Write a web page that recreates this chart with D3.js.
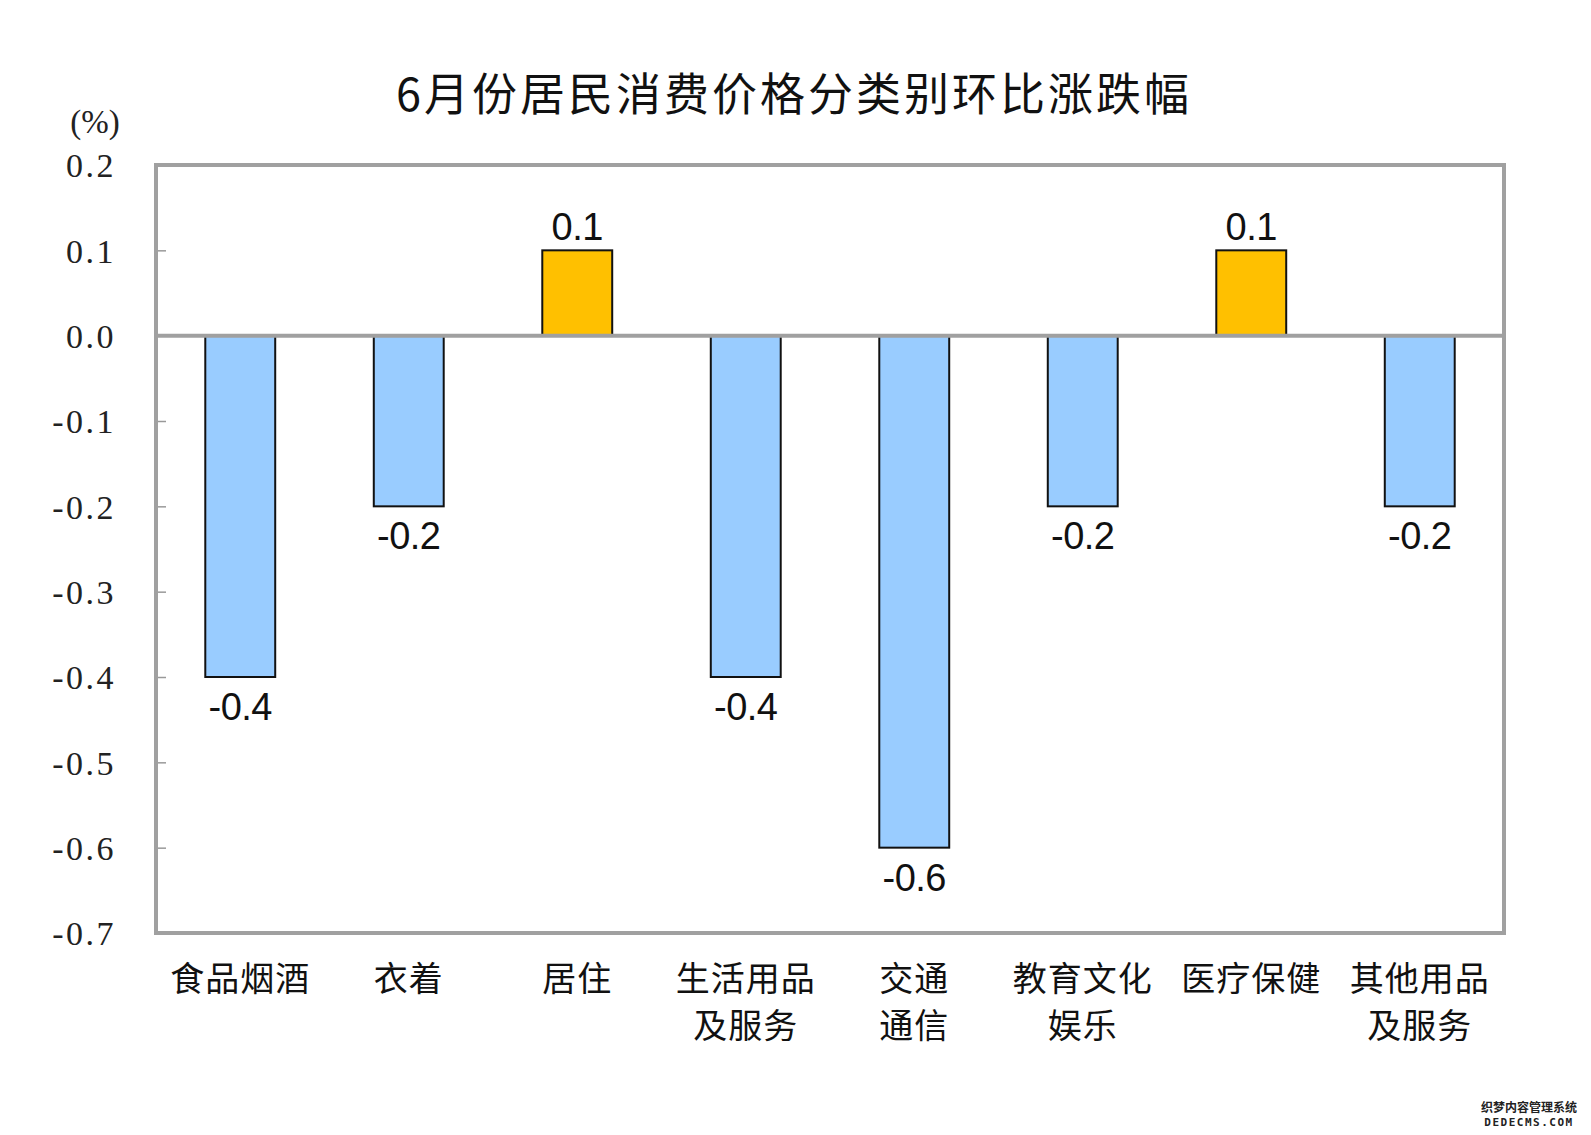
<!DOCTYPE html>
<html>
<head>
<meta charset="utf-8">
<script src="https://cdn.jsdelivr.net/npm/d3@7"></script>
<style>
  html, body { margin: 0; padding: 0; background: #ffffff; }
  svg { display: block; }
</style>
</head>
<body>
<svg id="chart" width="1591" height="1135"></svg>
<script>
// ---- data ----
const title = "6月份居民消费价格分类别环比涨跌幅";
const unitLabel = "(%)";
const categories = ["食品烟酒", "衣着", "居住", "生活用品\n及服务", "交通\n通信", "教育文化\n娱乐", "医疗保健", "其他用品\n及服务"];
const values = [-0.4, -0.2, 0.1, -0.4, -0.6, -0.2, 0.1, -0.2];
const yTicks = [0.2, 0.1, 0.0, -0.1, -0.2, -0.3, -0.4, -0.5, -0.6, -0.7];
const yDomain = [-0.7, 0.2];

// ---- layout ----
const svg = d3.select("#chart");
const pL = 156, pR = 1504, pT = 165, pB = 933;

const x = d3.scaleBand().domain(categories).range([pL, pR]).paddingInner(0.585).paddingOuter(0.2925);
const y = d3.scaleLinear().domain(yDomain).range([pB, pT]);

// title
svg.append("text")
  .attr("x", 794).attr("y", 91)
  .attr("text-anchor", "middle").attr("dominant-baseline", "central")
  .attr("font-family", "'Noto Sans CJK SC', sans-serif")
  .attr("font-size", 45).attr("letter-spacing", 3)
  .attr("fill", "#111")
  .text(title);

// unit label
svg.append("text")
  .attr("x", 95).attr("y", 133)
  .attr("text-anchor", "middle")
  .attr("font-family", "'Liberation Serif', serif")
  .attr("font-size", 33)
  .attr("fill", "#222")
  .text(unitLabel);

// y axis (ticks inward, no domain)
const yAxis = d3.axisLeft(y).tickValues(yTicks).tickSize(-10).tickPadding(0)
  .tickFormat(d => d3.format(".1f")(d).replace("−", "-"));
const gy = svg.append("g").attr("transform", `translate(${pL},0)`).call(yAxis);
gy.select(".domain").remove();
gy.selectAll(".tick line").attr("stroke", "#999").attr("stroke-width", 1.5);
gy.selectAll(".tick text")
  .attr("x", -40)
  .attr("dy", "0.35em")
  .attr("font-family", "'Liberation Serif', serif")
  .attr("font-size", 34)
  .attr("letter-spacing", 2.5)
  .attr("fill", "#222")
  .attr("text-anchor", "end");

// bars
svg.append("g").selectAll("rect").data(values).join("rect")
  .attr("x", (d, i) => x(categories[i]))
  .attr("width", x.bandwidth())
  .attr("y", d => y(Math.max(0, d)))
  .attr("height", d => Math.abs(y(d) - y(0)))
  .attr("fill", d => d >= 0 ? "#FFC000" : "#99CCFF")
  .attr("stroke", "#111")
  .attr("stroke-width", 2);

// zero line
svg.append("line")
  .attr("x1", pL).attr("x2", pR)
  .attr("y1", y(0)).attr("y2", y(0))
  .attr("stroke", "#a0a0a0").attr("stroke-width", 4);

// frame
svg.append("rect")
  .attr("x", pL).attr("y", pT)
  .attr("width", pR - pL).attr("height", pB - pT)
  .attr("fill", "none").attr("stroke", "#a0a0a0").attr("stroke-width", 4);

// value labels
svg.append("g").selectAll("text").data(values).join("text")
  .attr("x", (d, i) => x(categories[i]) + x.bandwidth() / 2)
  .attr("y", d => d >= 0 ? y(d) - 10 : y(d) + 43)
  .attr("text-anchor", "middle")
  .attr("font-family", "'Liberation Sans', Arial, sans-serif")
  .attr("font-size", 38)
  .attr("letter-spacing", -0.5)
  .attr("fill", "#111")
  .text(d => d3.format(".1f")(d).replace("−", "-"));

// category labels
const cat = svg.append("g").selectAll("text").data(categories).join("text")
  .attr("x", d => x(d) + x.bandwidth() / 2)
  .attr("text-anchor", "middle")
  .attr("font-family", "'Noto Sans CJK SC', sans-serif")
  .attr("font-size", 34)
  .attr("letter-spacing", 1)
  .attr("fill", "#111");
cat.each(function(d) {
  const lines = d.split("\n");
  const t = d3.select(this);
  const cx = +t.attr("x");
  lines.forEach((ln, k) => {
    t.append("tspan").attr("x", cx).attr("y", 976 + k * 47)
      .attr("dominant-baseline", "central").text(ln);
  });
});

// watermark
const wm = svg.append("g").attr("font-family", "'Noto Sans CJK SC', sans-serif")
  .attr("fill", "#222").attr("stroke", "#fff").attr("stroke-width", 2).attr("paint-order", "stroke");
wm.append("text").attr("x", 1529).attr("y", 1112).attr("text-anchor", "middle")
  .attr("font-size", 12).attr("font-weight", "bold").text("织梦内容管理系统");
wm.append("text").attr("x", 1529).attr("y", 1126).attr("text-anchor", "middle")
  .attr("font-family", "'DejaVu Sans Mono', monospace")
  .attr("font-size", 11).attr("font-weight", "bold").attr("letter-spacing", 1.5).text("DEDECMS.COM");
</script>
</body>
</html>
